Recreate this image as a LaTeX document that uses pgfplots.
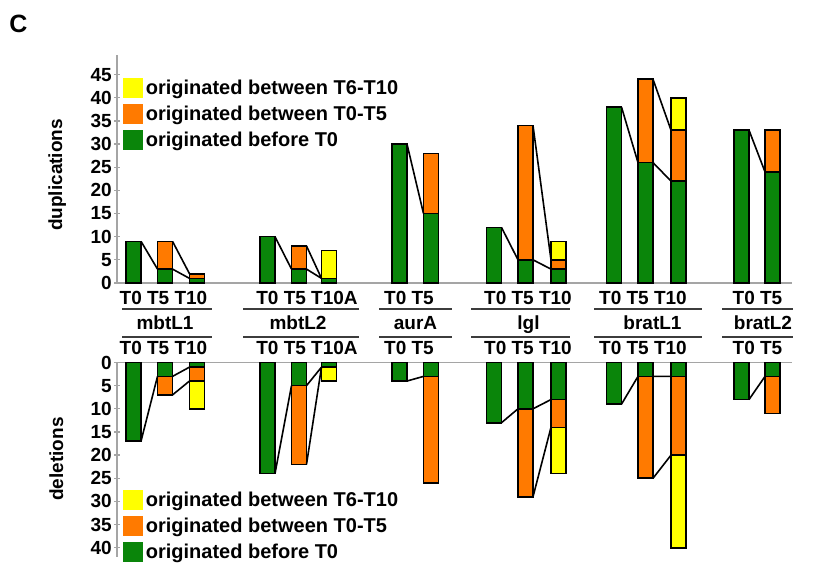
\documentclass[border=0pt]{standalone}
\usepackage{pgfplots}
\usepackage{pgfplotstable}
\pgfplotsset{compat=1.18}
\usepackage{fontspec}
\setmainfont{Liberation Sans}

\definecolor{gBefore}{RGB}{10,133,10}
\definecolor{gEarly}{RGB}{255,122,0}
\definecolor{gLate}{RGB}{255,255,0}
\definecolor{axisgray}{RGB}{165,165,165}
\definecolor{rulegray}{RGB}{60,60,60}

\newcommand\chartfont{\bfseries\fontsize{19}{22}\selectfont}
\newcommand\legendfont{\bfseries\fontsize{20}{22}\selectfont}

% x = bar centre (pt from the left edge); G = before T0, GO = G + T0-T5, T = total
\pgfplotstableread{
x     G  GO T
133.5 9  9  9
165   3  9  9
197   1  2  2
267.5 10 10 10
299   3  8  8
329   1  1  7
399.5 30 30 30
431   15 28 28
494   12 12 12
525.5 5  34 34
558.5 3  5  9
614   38 38 38
645.5 26 44 44
678.5 22 33 40
741.5 33 33 33
772.5 24 33 33
}\dup

\pgfplotstableread{
x     G  GO T
133.5 17 17 17
165   3  7  7
197   1  4  10
267.5 24 24 24
299   5  22 22
329   1  1  4
399.5 4  4  4
431   3  26 26
494   13 13 13
525.5 10 29 29
558.5 8  14 24
614   9  9  9
645.5 3  25 25
678.5 3  20 40
741.5 8  8  8
772.5 3  11 11
}\del

\pgfplotsset{
  seg/.style={ybar, bar width=15pt, bar shift=0pt, draw=black, line width=1.6pt, fill=#1,
    legend image code/.code={\fill[#1] (0pt,-9pt) rectangle (18pt,9pt);}},
  link/.style={black, line width=1.6pt, forget plot, mark=none, sharp plot, unbounded coords=jump},
  chartaxis/.style={
    scale only axis, width=675pt, xmin=117, xmax=792, ymin=0,
    xtick=\empty,
    major tick length=6pt, tick align=outside,
    tick style={draw=axisgray, line width=1.3pt},
    tick label style={font=\chartfont},
    /pgf/number format/assume math mode=true,
    yticklabel style={inner sep=2pt},
    clip=false,
    legend cell align=left,
    legend style={draw=none, fill=none, font=\legendfont, inner sep=0pt,
      row sep=6.5pt, nodes={inner ysep=0pt, inner xsep=3pt},
      legend image post style={xshift=-2pt}},
  },
  plainlines/.style={axis line style={-, draw=axisgray, line width=1.6pt}},
}

\begin{document}
\begin{tikzpicture}[x=1pt,y=1pt]
\useasboundingbox (0,0) rectangle (817,565);

% duplications
\begin{axis}[chartaxis, at={(117pt,282pt)}, anchor=south west,
  axis x line=bottom, axis y line=left, plainlines,
  height=228pt, ymax=49.24, ytick={0,5,...,45},
  legend style={at={(axis description cs:0.009,0.899)}, anchor=north west}]
\addplot[seg=gLate]   table[x=x,y=T]  {\dup};
\addlegendentry{originated between T6-T10}
\addplot[seg=gEarly]  table[x=x,y=GO] {\dup};
\addlegendentry{originated between T0-T5}
\addplot[seg=gBefore] table[x=x,y=G]  {\dup};
\addlegendentry{originated before T0}
\addplot[link] coordinates {
  (141,9) (157.5,3) (150,nan)
  (172.5,3) (189.5,1) (180,nan)
  (172.5,9) (189.5,2) (180,nan)
  (275,10) (291.5,3) (280,nan)
  (306.5,3) (321.5,1) (310,nan)
  (306.5,8) (321.5,1) (310,nan)
  (407,30) (423.5,15) (410,nan)
  (501.5,12) (518,5) (510,nan)
  (533,5) (551,3) (540,nan)
  (533,34) (551,5) (540,nan)
  (621.5,38) (638,26) (630,nan)
  (653,26) (671,22) (660,nan)
  (653,44) (671,33) (660,nan)
  (749,33) (765,24)
};
\end{axis}

% deletions (downward axis, zero line on top)
\begin{axis}[chartaxis, at={(117pt,202.5pt)}, anchor=north west,
  axis x line=top, axis y line=left, plainlines,
  height=194.5pt, ymax=42.0, y dir=reverse, ytick={0,5,...,40},
  legend style={at={(axis description cs:0.009,0.344)}, anchor=north west}]
\addplot[seg=gLate]   table[x=x,y=T]  {\del};
\addlegendentry{originated between T6-T10}
\addplot[seg=gEarly]  table[x=x,y=GO] {\del};
\addlegendentry{originated between T0-T5}
\addplot[seg=gBefore] table[x=x,y=G]  {\del};
\addlegendentry{originated before T0}
\addplot[link] coordinates {
  (141,17) (157.5,3) (150,nan)
  (172.5,3) (189.5,1) (180,nan)
  (172.5,7) (189.5,4) (180,nan)
  (275,24) (291.5,5) (280,nan)
  (306.5,5) (321.5,1) (310,nan)
  (306.5,22) (321.5,1) (310,nan)
  (407,4) (423.5,3) (410,nan)
  (501.5,13) (518,10) (510,nan)
  (533,10) (551,8) (540,nan)
  (533,29) (551,14) (540,nan)
  (621.5,9) (638,3) (630,nan)
  (653,3) (671,3) (660,nan)
  (653,25) (671,20) (660,nan)
  (749,8) (765,3)
};
\end{axis}

% panel letter and axis titles
\node[anchor=base, font=\bfseries\fontsize{25}{28}\selectfont] at (18.5,532) {C};
\node[anchor=base, rotate=90, font=\chartfont] at (62,390) {duplications};
\node[anchor=base, rotate=90, font=\chartfont] at (63,106) {deletions};

% sample and gene labels between the two panels
\begin{scope}[every node/.style={anchor=base, font=\chartfont, inner sep=0pt}]
  \foreach \cx/\txt in {163.5/{T0 T5 T10}, 307/{T0 T5 T10A}, 409/{T0 T5},
                        528/{T0 T5 T10}, 643/{T0 T5 T10}, 757.5/{T0 T5}} {
    \node at (\cx,260) {\txt};
    \node at (\cx,210) {\txt};
  }
  \foreach \cx/\txt in {165/mbtL1, 298/mbtL2, 415.5/aurA, 528.5/lgl, 652.5/bratL1, 763/bratL2}
    \node at (\cx,235) {\txt};
\end{scope}
\foreach \a/\b in {122/212, 243/359, 379/452, 471/570, 594/702, 722/793} {
  \draw[rulegray, line width=1.8pt] (\a,256) -- (\b,256);
  \draw[rulegray, line width=1.8pt] (\a,228) -- (\b,228);
}
\end{tikzpicture}
\end{document}
